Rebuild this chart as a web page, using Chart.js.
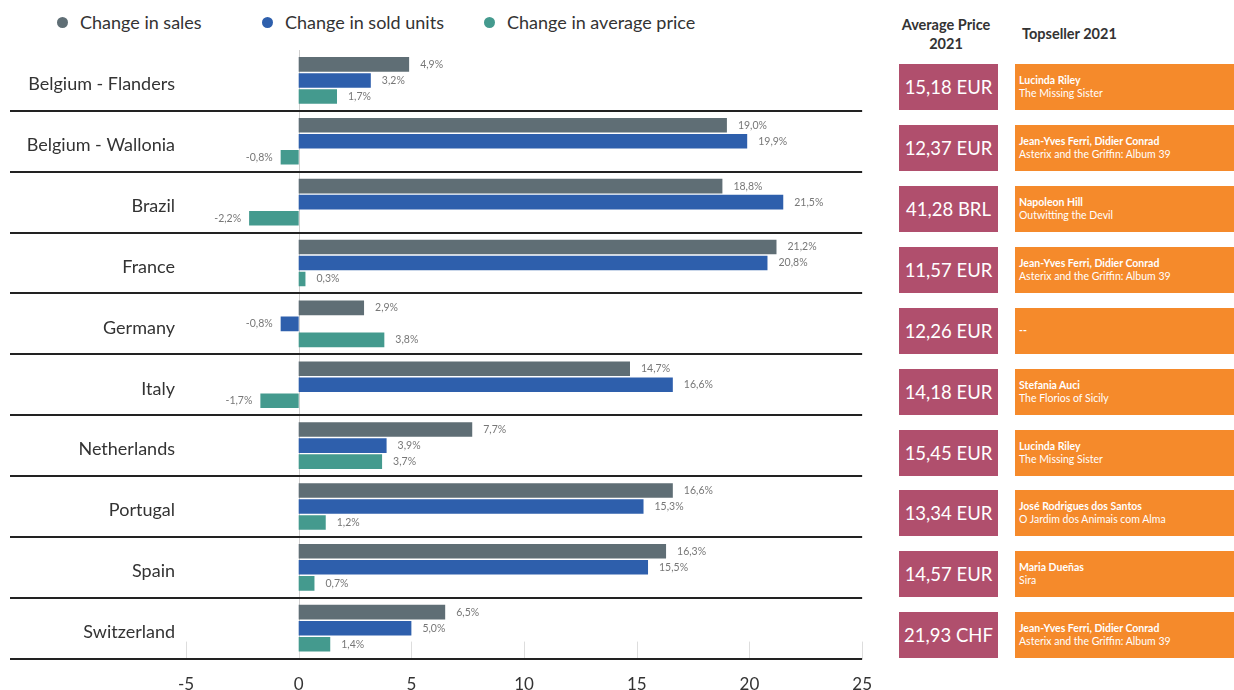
<!DOCTYPE html>
<html>
<head>
<meta charset="utf-8">
<script src="https://cdn.jsdelivr.net/npm/chart.js@4.4.0/dist/chart.umd.min.js"></script>
<style>
  html, body { margin:0; padding:0; width:1234px; height:690px; overflow:hidden; background:#fff; font-family: Lato, "Open Sans", sans-serif; }
  #wrap { position:absolute; left:0; top:0; width:880px; height:703px; }
  .leg { position:absolute; top:11px; font-size:18px; color:#333; white-space:nowrap; }
  .leg span.dot { display:inline-block; width:11px; height:11px; border-radius:50%; margin-right:12px; vertical-align:1px; }
  .hdr { position:absolute; font-weight:bold; font-size:14.5px; color:#333; text-align:center; line-height:19px; }
  .pbox { position:absolute; left:899px; width:99px; height:46px; background:#b04f6d; color:#fff; font-size:18.5px; display:flex; align-items:center; justify-content:center; }
  .tbox { position:absolute; left:1015px; width:219px; height:46px; background:#f58a2b; color:#fff; font-size:10.5px; display:flex; flex-direction:column; justify-content:center; padding-left:4px; box-sizing:border-box; line-height:13px; }
  .tbox b { font-weight:bold; }
</style>
</head>
<body>
<div id="legend"></div>
<div class="hdr" style="left:890px; top:15px; width:112px;">Average Price<br>2021</div>
<div class="hdr" style="left:1022px; top:24px;">Topseller 2021</div>
<div id="panels"></div>
<div id="wrap"><canvas id="c" width="880" height="703"></canvas></div>
<script>
const categories = ["Belgium - Flanders","Belgium - Wallonia","Brazil","France","Germany","Italy","Netherlands","Portugal","Spain","Switzerland"];
const changeSales = [4.9, 19.0, 18.8, 21.2, 2.9, 14.7, 7.7, 16.6, 16.3, 6.5];
const changeUnits = [3.2, 19.9, 21.5, 20.8, -0.8, 16.6, 3.9, 15.3, 15.5, 5.0];
const changePrice = [1.7, -0.8, -2.2, 0.3, 3.8, -1.7, 3.7, 1.2, 0.7, 1.4];
const seriesNames = ["Change in sales","Change in sold units","Change in average price"];
const seriesColors = ["#5f6e75","#2e5fac","#449a8e"];
const avgPrice = ["15,18 EUR","12,37 EUR","41,28 BRL","11,57 EUR","12,26 EUR","14,18 EUR","15,45 EUR","13,34 EUR","14,57 EUR","21,93 CHF"];
const topAuthor = ["Lucinda Riley","Jean-Yves Ferri, Didier Conrad","Napoleon Hill","Jean-Yves Ferri, Didier Conrad","--","Stefania Auci","Lucinda Riley","José Rodrigues dos Santos","Maria Dueñas","Jean-Yves Ferri, Didier Conrad"];
const topTitle = ["The Missing Sister","Asterix and the Griffin: Album 39","Outwitting the Devil","Asterix and the Griffin: Album 39","","The Florios of Sicily","The Missing Sister","O Jardim dos Animais com Alma","Sira","Asterix and the Griffin: Album 39"];
const xTicks = [-5, 0, 5, 10, 15, 20, 25];

// HTML legend
const legendPos = [57, 262, 484];
const legEl = document.getElementById('legend');
seriesNames.forEach((n, i) => {
  const d = document.createElement('div');
  d.className = 'leg';
  d.style.left = legendPos[i] + 'px';
  d.innerHTML = '<span class="dot" style="background:' + seriesColors[i] + '"></span>' + n;
  legEl.appendChild(d);
});

const fmt = v => v.toFixed(1).replace('.', ',') + '%';

const decor = {
  id: 'decor',
  beforeDatasetsDraw(chart) {
    const ctx = chart.ctx, a = chart.chartArea, x = chart.scales.x;
    ctx.save();
    ctx.strokeStyle = '#cfcfcf'; ctx.lineWidth = 1;
    const x0 = Math.round(x.getPixelForValue(0)) + 0.5;
    ctx.beginPath(); ctx.moveTo(x0, a.top); ctx.lineTo(x0, a.bottom); ctx.stroke();
    ctx.strokeStyle = '#dddddd';
    xTicks.forEach(t => {
      const px = Math.round(x.getPixelForValue(t)) + 0.5;
      ctx.beginPath(); ctx.moveTo(px, a.bottom - 17); ctx.lineTo(px, a.bottom); ctx.stroke();
    });
    ctx.restore();
  },
  afterDatasetsDraw(chart) {
    const ctx = chart.ctx, a = chart.chartArea, y = chart.scales.y;
    ctx.save();
    ctx.strokeStyle = '#222'; ctx.lineWidth = 2;
    const h = (y.getPixelForValue(1) - y.getPixelForValue(0));
    for (let i = 1; i <= categories.length; i++) {
      const py = Math.round(y.getPixelForValue(i) - h / 2);
      ctx.beginPath(); ctx.moveTo(10, py); ctx.lineTo(a.right, py); ctx.stroke();
    }
    ctx.font = '10.5px Lato, sans-serif';
    ctx.fillStyle = '#777';
    ctx.textBaseline = 'middle';
    chart.data.datasets.forEach((ds, di) => {
      const meta = chart.getDatasetMeta(di);
      meta.data.forEach((bar, i) => {
        const v = ds.data[i];
        if (v >= 0) { ctx.textAlign = 'left'; ctx.fillText(fmt(v), bar.x + 11, bar.y); }
        else { ctx.textAlign = 'right'; ctx.fillText(fmt(v), bar.x - 8, bar.y); }
      });
    });
    ctx.restore();
  },
  afterRender(chart) {
    const p = document.getElementById('panels');
    if (p.childElementCount) return;
    const y = chart.scales.y;
    categories.forEach((c, i) => {
      const cy = y.getPixelForValue(i) + 7;
      const pb = document.createElement('div');
      pb.className = 'pbox'; pb.style.top = (cy - 23) + 'px'; pb.textContent = avgPrice[i];
      p.appendChild(pb);
      const tb = document.createElement('div');
      tb.className = 'tbox'; tb.style.top = (cy - 23) + 'px';
      tb.innerHTML = '<b>' + topAuthor[i] + '</b>' + (topTitle[i] ? '<span>' + topTitle[i] + '</span>' : '');
      p.appendChild(tb);
    });
  }
};

new Chart(document.getElementById('c'), {
  type: 'bar',
  data: {
    labels: categories,
    datasets: [
      { label: seriesNames[0], data: changeSales, backgroundColor: seriesColors[0] },
      { label: seriesNames[1], data: changeUnits, backgroundColor: seriesColors[1] },
      { label: seriesNames[2], data: changePrice, backgroundColor: seriesColors[2] }
    ]
  },
  options: {
    indexAxis: 'y',
    responsive: false,
    animation: false,
    devicePixelRatio: 1,
    categoryPercentage: 0.79,
    barPercentage: 0.91,
    layout: { padding: { top: 50, right: 0, left: 0, bottom: 0 } },
    plugins: { legend: { display: false }, tooltip: { enabled: false } },
    scales: {
      x: {
        min: -5, max: 25,
        border: { display: false },
        grid: { display: false },
        afterBuildTicks: s => { s.ticks = xTicks.map(v => ({ value: v })); },
        ticks: { font: { family: 'Lato', size: 17 }, color: '#333', padding: 8 }
      },
      y: {
        border: { display: false },
        grid: { display: false },
        afterFit: s => { s.width = 186; },
        ticks: { font: { family: 'Lato', size: 18 }, color: '#333', padding: 3, labelOffset: 4 }
      }
    }
  },
  plugins: [decor]
});
</script>
</body>
</html>
